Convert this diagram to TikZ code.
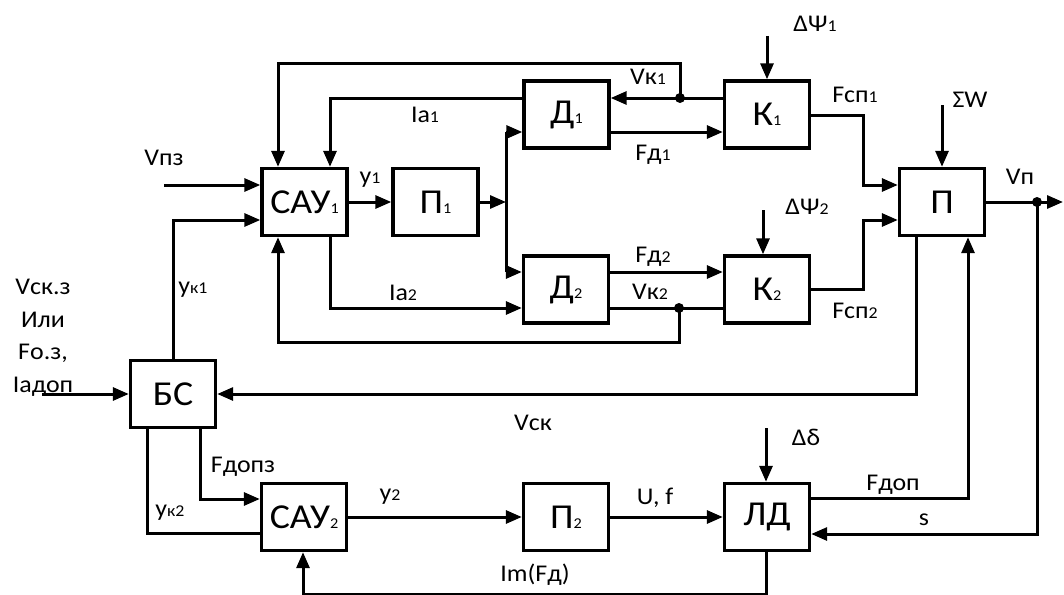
\documentclass[tikz,border=0pt]{standalone}
\usepackage{fontspec}
\setmainfont{Carlito}[FakeStretch=1.08]
\usetikzlibrary{arrows.meta}
\newcommand\sm[1]{{\fontsize{16.5}{16.5}\selectfont #1}}
\newcommand\boxsub[1]{{\fontsize{15}{15}\selectfont #1}}
\begin{document}
\begin{tikzpicture}[x=1pt,y=-1pt,
  blk/.style={draw,line width=3.4pt,minimum width=85pt,minimum height=67pt,inner sep=0pt,font=\fontsize{35}{35}\selectfont},
  lbl/.style={font=\fontsize{24}{24}\selectfont,inner sep=0pt},
  ln/.style={line width=3pt},
  ar/.style={ln,-{Triangle[length=16pt,width=13pt]}},
  dot/.style={circle,fill,inner sep=0pt,minimum size=10pt}]
\useasboundingbox (0,0) rectangle (1064,594);
% blocks
\node[blk] (sau1) at (304.5,202) {САУ\boxsub{1}};
\node[blk] (p1) at (435.5,202) {П\boxsub{1}};
\node[blk] (d1) at (566.5,114.5) {Д\boxsub{1}};
\node[blk] (k1) at (767,114.5) {К\boxsub{1}};
\node[blk] (d2) at (566,289.5) {Д\boxsub{2}};
\node[blk] (k2) at (767,289.5) {К\boxsub{2}};
\node[blk] (P) at (942,202) {П};
\node[blk] (bs) at (173,394) {БС};
\node[blk] (sau2) at (304,517) {САУ\boxsub{2}};
\node[blk] (p2) at (566,517) {П\boxsub{2}};
\node[blk] (ld) at (767,517) {ЛД};
% coordinates
\coordinate (vpz) at (164,185);
\coordinate (t1) at (680,63);
\coordinate (t2) at (278,63);
\coordinate (ia1) at (330,98);
\coordinate (bus1) at (506,132);
\coordinate (bus2) at (506,272);
\coordinate (busm) at (506,202);
\coordinate (b1) at (679,342);
\coordinate (b2) at (278,342);
\coordinate (ia2) at (330,308);
\coordinate (psi1) at (767,36);
\coordinate (psi2) at (763,210);
\coordinate (f1a) at (863,115);
\coordinate (f1b) at (863,185);
\coordinate (f2a) at (863,289);
\coordinate (f2b) at (863,220);
\coordinate (sw) at (942,105);
\coordinate (out) at (1063,202);
\coordinate (s1) at (1037,534);
\coordinate (v1) at (916,394);
\coordinate (fd) at (968,498);
\coordinate (dd) at (766,428);
\coordinate (im1) at (766,594.5);
\coordinate (im2) at (303,594.5);
\coordinate (in) at (42,394);
\coordinate (yk2) at (147,533);
\coordinate (fz) at (200,499);
\coordinate (yk1) at (173,220);
\node[dot] (dk1) at (680,98) {};
\node[dot] (dk2) at (679,308) {};
\node[dot] (dvp) at (1037,202) {};
% connectors
\draw[ar] (vpz) -- (vpz -| sau1.west);
\draw[ar] (bs.north) -- (yk1) -- (yk1 -| sau1.west);
\draw[ar] (dk1.center) -- (t1) -- (t2) -- (t2 |- sau1.north);
\draw[ar] (k1.west |- dk1) -- (d1.east |- dk1);
\draw[ar] (d1.west |- ia1) -- (ia1) -- (ia1 |- sau1.north);
\draw[ar] (sau1.east) -- (p1.west);
\draw[ar] (p1.east) -- (busm);
\draw[ln] (bus1) -- (bus2);
\draw[ar] (bus1) -- (bus1 -| d1.west);
\draw[ar] (bus2) -- (bus2 -| d2.west);
\draw[ar] (d1.east |- bus1) -- (k1.west |- bus1);
\draw[ar] (d2.east |- bus2) -- (k2.west |- bus2);
\draw[ln] (k2.west |- dk2) -- (d2.east |- dk2);
\draw[ar] (dk2.center) -- (b1) -- (b2) -- (b2 |- sau1.south);
\draw[ar] (ia2 |- sau1.south) -- (ia2) -- (ia2 -| d2.west);
\draw[ar] (psi1) -- (k1.north);
\draw[ar] (psi2) -- (psi2 |- k2.north);
\draw[ar] (k1.east |- f1a) -- (f1a) -- (f1b) -- (f1b -| P.west);
\draw[ar] (k2.east |- f2a) -- (f2a) -- (f2b) -- (f2b -| P.west);
\draw[ar] (sw) -- (P.north);
\draw[ar] (P.east) -- (out);
\draw[ar] (dvp.center) -- (s1) -- (s1 -| ld.east);
\draw[ar] (v1 |- P.south) -- (v1) -- (v1 -| bs.east);
\draw[ar] (fd -| ld.east) -- (fd) -- (fd |- P.south);
\draw[ar] (dd) -- (dd |- ld.north);
\draw[ar] (p2.east) -- (ld.west);
\draw[ar] (sau2.east) -- (p2.west);
\draw[ar] (im1 |- ld.south) -- (im1) -- (im2) -- (im2 |- sau2.south);
\draw[ar] (in) -- (bs.west);
\draw[ln] (yk2 |- bs.south) -- (yk2) -- (yk2 -| sau2.west);
\draw[ar] (fz |- bs.south) -- (fz) -- (fz -| sau2.west);
% labels
\node[lbl] (lvpz) at (164,158) {Vпз};
\node[lbl] (ly1) at (370,180) {у\sm{1}};
\node[lbl] (lia1) at (425,115) {Ia\sm{1}};
\node[lbl] (lvk1) at (648,77) {Vк\sm{1}};
\node[lbl] (lfd1) at (653,155) {Fд\sm{1}};
\node[lbl] (lpsi1) at (815,24) {ΔΨ\sm{1}};
\node[lbl] (lfsp1) at (855,95) {Fсп\sm{1}};
\node[lbl] (lsw) at (970,100) {ΣW};
\node[lbl] (lvp) at (1020,177) {Vп};
\node[lbl] (lpsi2) at (807,207) {ΔΨ\sm{2}};
\node[lbl] (lfd2) at (653,257) {Fд\sm{2}};
\node[lbl] (lvk2) at (650,292) {Vк\sm{2}};
\node[lbl] (lfsp2) at (855,311) {Fсп\sm{2}};
\node[lbl] (lia2) at (403,293) {Ia\sm{2}};
\node[lbl] (lyk1) at (193,290) {у\sm{к1}};
\node[lbl,align=center,font=\fontsize{24}{32.5}\selectfont] (lleft) at (43,338) {Vск.з\\Или\\Fо.з,\\Iaдоп};
\node[lbl] (lvsk) at (533,423) {Vск};
\node[lbl] (ldd) at (806,437) {Δδ};
\node[lbl] (lfdz) at (243,467) {Fдопз};
\node[lbl] (lyk2) at (170,513) {у\sm{к2}};
\node[lbl] (ly2) at (390,497) {у\sm{2}};
\node[lbl] (luf) at (655,498) {U, f};
\node[lbl] (lfdop) at (893,485) {Fдоп};
\node[lbl] (ls) at (924,520) {s};
\node[lbl] (lim) at (535,575) {Im(Fд)};
\end{tikzpicture}
\end{document}
